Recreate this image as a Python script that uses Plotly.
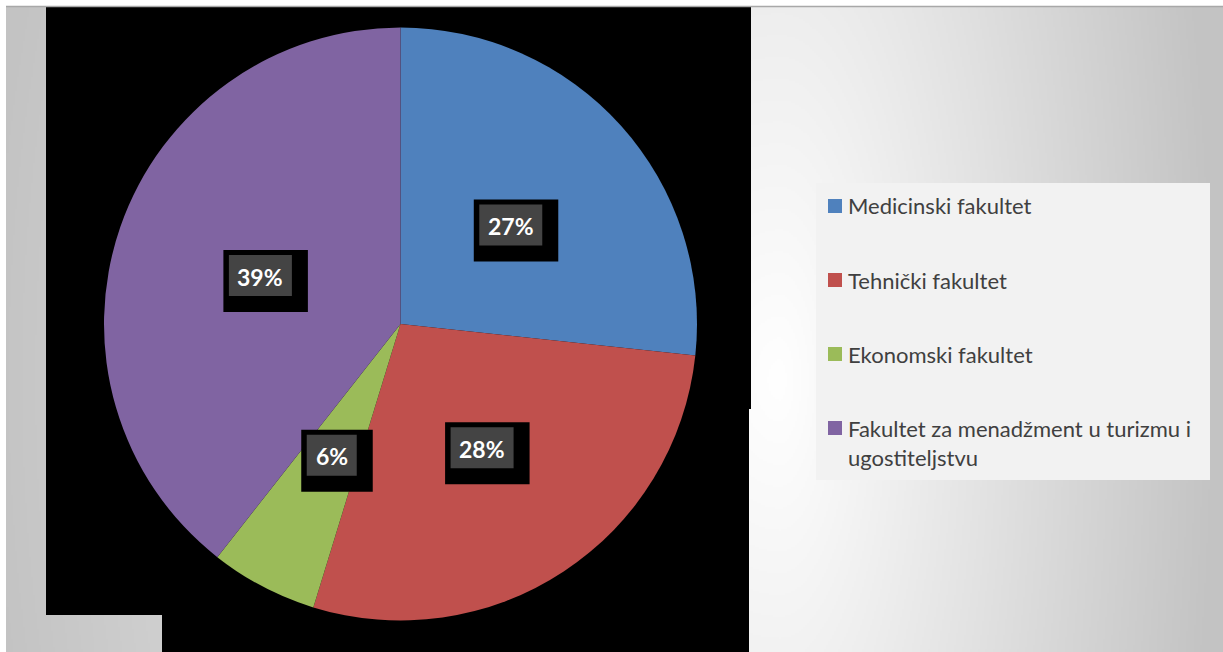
import base64
import struct
import zlib

import numpy as np
import plotly.graph_objects as go

# ---------------- data ----------------
categories = [
    "Medicinski fakultet",
    "Tehnički fakultet",
    "Ekonomski fakultet",
    "Fakultet za menadžment u turizmu i ugostiteljstvu",
]
legend_lines = [
    ["Medicinski fakultet"],
    ["Tehnički fakultet"],
    ["Ekonomski fakultet"],
    ["Fakultet za menadžment u turizmu i", "ugostiteljstvu"],
]
# shares (labels show the rounded values)
shares = [26.7, 28.05, 5.85, 39.4]
colors = ["#4f81bd", "#c0504d", "#9bbb59", "#8064a2"]

W, H = 1223, 652


def px(x):
    return x / W


def py(y):
    return 1 - y / H


# ---------------- background gradient image ----------------
def gradient_png():
    gw, gh = 612, 323
    xs = np.linspace(6, W, gw)
    ys = np.linspace(6, H, gh)
    X, Y = np.meshgrid(xs, ys)
    cx, cy = 780.0, 380.0
    dx = X - cx
    dy = Y - cy
    sx = np.where(dx > 0, 440.0, 800.0)
    d = np.sqrt((dx / sx) ** 2 + (dy / 1300.0) ** 2)
    g = 255 - 60 * np.clip(d, 0, 1)
    g = g.astype(np.uint8)
    raw = b"".join(b"\x00" + row.tobytes() for row in g)

    def chunk(tag, data):
        c = struct.pack(">I", len(data)) + tag + data
        return c + struct.pack(">I", zlib.crc32(tag + data) & 0xFFFFFFFF)

    png = b"\x89PNG\r\n\x1a\n"
    png += chunk(b"IHDR", struct.pack(">IIBBBBB", gw, gh, 8, 0, 0, 0, 0))
    png += chunk(b"IDAT", zlib.compress(raw, 9))
    png += chunk(b"IEND", b"")
    return "data:image/png;base64," + base64.b64encode(png).decode()


# ---------------- pie ----------------
pie_left, pie_right, pie_top, pie_bottom = 104, 697, 27, 621

fig = go.Figure()
fig.add_trace(
    go.Pie(
        labels=categories,
        values=shares,
        sort=False,
        direction="clockwise",
        rotation=0,
        marker=dict(colors=colors, line=dict(width=0)),
        textinfo="none",
        hoverinfo="label+percent",
        showlegend=False,
        domain=dict(x=[px(pie_left), px(pie_right)], y=[py(pie_bottom), py(pie_top)]),
    )
)

shapes = []
annotations = []

# black panel behind the pie
black_path = (
    f"M {px(46)},{py(6)} L {px(751)},{py(6)} L {px(751)},{py(409)} "
    f"L {px(749)},{py(409)} L {px(749)},{py(H)} L {px(162)},{py(H)} "
    f"L {px(162)},{py(615)} L {px(46)},{py(615)} Z"
)
shapes.append(dict(type="path", xref="paper", yref="paper", path=black_path,
                   fillcolor="black", line=dict(width=0), layer="below"))
# thin top border line
shapes.append(dict(type="line", xref="paper", yref="paper", x0=px(6), x1=1,
                   y0=py(6.5), y1=py(6.5), line=dict(color="#a8a8a8", width=1.5)))

# data labels, positioned from the slice angles
cx = (pie_left + pie_right) / 2
cy = (pie_top + pie_bottom) / 2
R = min(pie_right - pie_left, pie_bottom - pie_top) / 2
total = sum(shares)
cum = 0
for v in shares:
    mid = (cum + v / 2) / total * 2 * np.pi
    cum += v
    lx = cx + 0.5 * R * np.sin(mid)
    ly = cy - 0.5 * R * np.cos(mid)
    txt = f"{round(v / total * 100)}%"
    bw = 24 + 13 * len(txt)
    bh = 41
    x0, x1 = lx - bw / 2, lx + bw / 2
    y0, y1 = ly - bh / 2, ly + bh / 2
    shapes.append(dict(type="rect", xref="paper", yref="paper",
                       x0=px(x0 - 5.5), x1=px(x1 + 16), y0=py(y0 - 5), y1=py(y1 + 16),
                       fillcolor="black", line=dict(width=0)))
    shapes.append(dict(type="rect", xref="paper", yref="paper",
                       x0=px(x0), x1=px(x1), y0=py(y0), y1=py(y1),
                       fillcolor="#444444", line=dict(width=0)))
    annotations.append(dict(xref="paper", yref="paper", x=px(lx), y=py(ly + 1),
                            text=f"<b>{txt}</b>", showarrow=False,
                            xanchor="center", yanchor="middle",
                            font=dict(family="Lato", size=23, color="white")))

# legend (drawn manually to match spacing)
shapes.append(dict(type="rect", xref="paper", yref="paper",
                   x0=px(816), x1=px(1210), y0=py(183), y1=py(480),
                   fillcolor="#f2f2f2", line=dict(width=0)))
for i, (lines, col) in enumerate(zip(legend_lines, colors)):
    first_y = 205 + 74 * i
    shapes.append(dict(type="rect", xref="paper", yref="paper",
                       x0=px(828), x1=px(842), y0=py(first_y - 6), y1=py(first_y + 8),
                       fillcolor=col, line=dict(width=0)))
    block_center = first_y + (len(lines) - 1) * 15
    annotations.append(dict(xref="paper", yref="paper", x=px(846), y=py(block_center + 1),
                            text="<br>".join(lines), showarrow=False, align="left",
                            xanchor="left", yanchor="middle",
                            font=dict(family="Lato", size=22, color="#404040")))

fig.update_layout(
    width=W,
    height=H,
    margin=dict(l=0, r=0, t=0, b=0),
    paper_bgcolor="white",
    plot_bgcolor="white",
    shapes=shapes,
    annotations=annotations,
    images=[dict(source=gradient_png(), xref="paper", yref="paper",
                 x=px(6), y=py(6), sizex=1 - px(6), sizey=py(6),
                 xanchor="left", yanchor="top", sizing="stretch", layer="below")],
)

fig.write_html("out.html", config={"displayModeBar": False},
               post_script="document.body.style.margin='0';")
